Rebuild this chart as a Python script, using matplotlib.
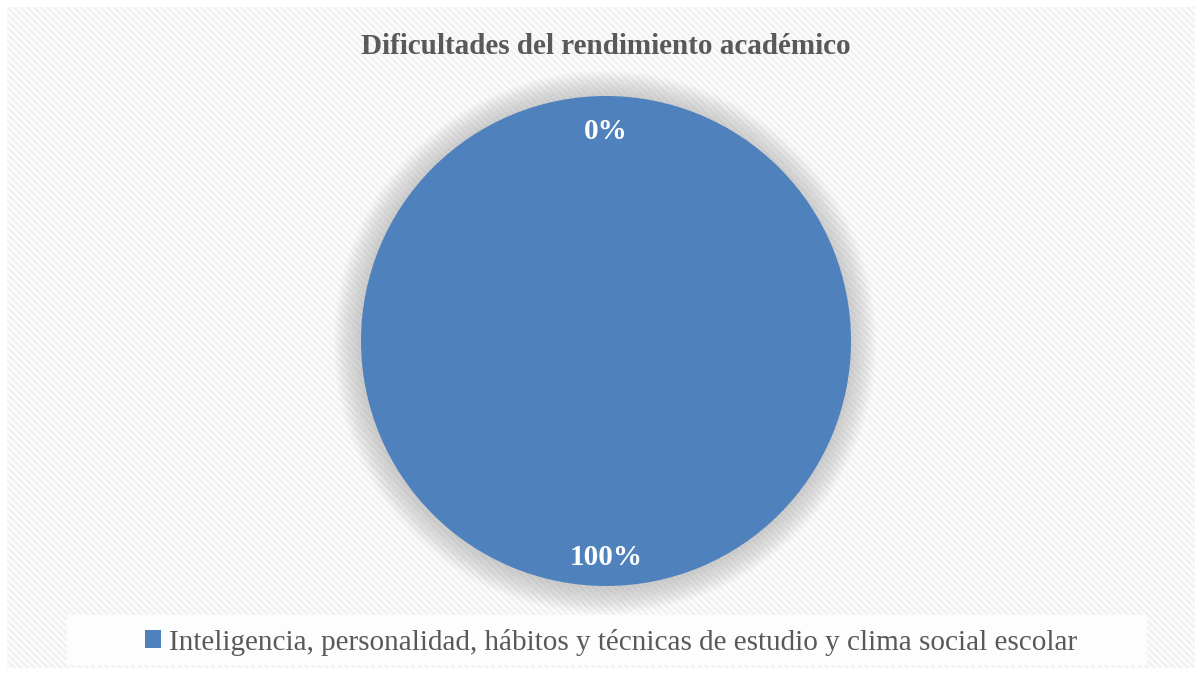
import matplotlib.pyplot as plt
from matplotlib.patches import Rectangle, Circle

plt.rcParams['font.family'] = ['Liberation Serif', 'DejaVu Serif']

# Chart data
legend_labels = ["Inteligencia, personalidad, hábitos y técnicas de estudio y clima social escolar"]
percentages = [0, 100]
title = "Dificultades del rendimiento académico"
blue = "#4f81bd"
gray_text = "#595959"

W, H = 1202, 675
fig = plt.figure(figsize=(W / 100, H / 100), dpi=100)
fig.patch.set_facecolor("white")

# Patterned chart area background
plt.rcParams['hatch.color'] = "#f0f0f0"
plt.rcParams['hatch.linewidth'] = 1.5
bg = Rectangle((7 / W, 7 / H), (W - 14) / W, (H - 14) / H, transform=fig.transFigure,
               facecolor="#fcfcfc", edgecolor="#f0f0f0", linewidth=0, hatch="\\\\\\\\\\",
               zorder=0)
fig.patches.append(bg)

# Legend box
lg_box = Rectangle((67 / W, (H - 665) / H), (1147 - 67) / W, 50 / H, transform=fig.transFigure,
                   facecolor="#fdfdfd", edgecolor="none", zorder=1)
fig.patches.append(lg_box)

# Pie axes: centre (606, 341) px, radius 245 px
cx, cy, r = 606, 341, 245
ax = fig.add_axes([(cx - r) / W, (H - cy - r) / H, 2 * r / W, 2 * r / H])
ax.set_zorder(5)
ax.patch.set_visible(False)

# soft shadow
for i in range(18):
    rad = 1.0 + 0.006 * (18 - i)
    ax.add_patch(Circle((-0.004, -0.006), rad, facecolor="#a0a0a0", alpha=0.03,
                        edgecolor="none", clip_on=False, zorder=1))

wedges, texts, autotexts = ax.pie(
    percentages,
    colors=[blue, blue],
    startangle=90,
    counterclock=False,
    autopct='%.0f%%',
    pctdistance=0.87,
    radius=1,
    frame=True,
    wedgeprops=dict(linewidth=0, zorder=2),
)
ax.set_xlim(-1, 1)
ax.set_ylim(-1, 1)
ax.axis('off')
for t in autotexts:
    t.set_color("white")
    t.set_fontsize(21)
    t.set_fontweight("bold")
    t.set_zorder(3)
    x, y = t.get_position()
    t.set_position((x, y - 0.013))

fig.text(606 / W, 1 - 47 / H, title, ha="center", va="center", fontsize=21,
         fontweight="bold", color=gray_text, zorder=6)

handles = [Rectangle((0, 0), 1, 1, facecolor=blue, edgecolor="none")]
leg = fig.legend(handles, legend_labels, loc="center", bbox_to_anchor=(611 / W, 1 - 642 / H),
                 frameon=False, fontsize=21, handlelength=0.55, handleheight=0.55,
                 handletextpad=0.25)
leg.set_zorder(6)
for t in leg.get_texts():
    t.set_color(gray_text)

fig.savefig("out.png", dpi=100)
